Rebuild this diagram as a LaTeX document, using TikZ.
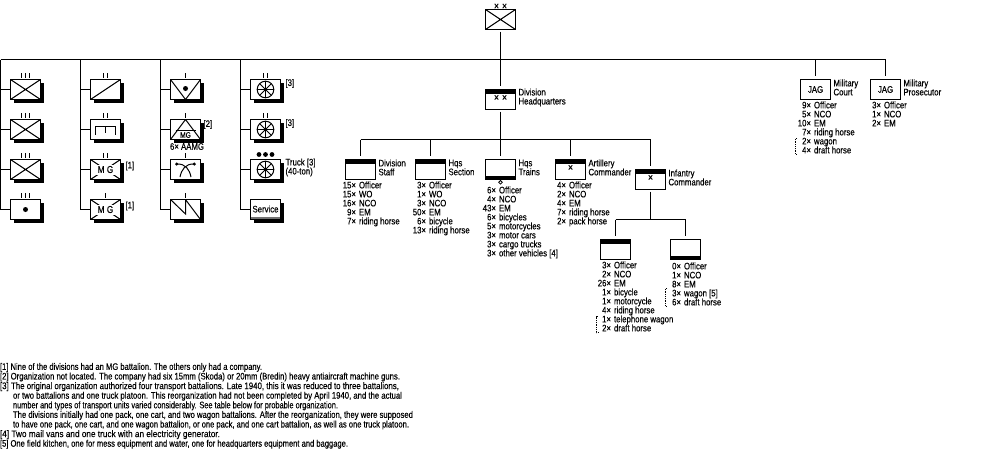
\documentclass[tikz,border=0pt]{standalone}
\usepackage{graphicx}
\usepackage{fontspec}
\setmainfont[FakeStretch=0.82,FakeBold=0.25]{Liberation Sans}
\usetikzlibrary{shadows}

\newcommand{\ppb}{path picture bounding box}
\newcommand{\onetick}{\rule{1pt}{4.5pt}}
\newcommand{\twoticks}{\onetick\hspace{3pt}\onetick}
\newcommand{\threeticks}{\onetick\hspace{3pt}\onetick\hspace{3pt}\onetick}
\newcommand{\crosses}{\fontsize{10.5}{10.5}\selectfont ×\hspace{3pt}×}
\newcommand{\cross}{\fontsize{10.5}{10.5}\selectfont ×}
\newcommand{\rowq}[2]{\makebox[16pt][r]{#1×}\hspace{3pt}#2}
\newcommand{\noteline}[2]{\resizebox{#1}{\height}{#2}}
\newcommand{\wheel}{\draw[shift={(\ppb.center)}] (0,0) circle (8.3);
  \foreach \a in {0,45,...,315} \draw[shift={(\ppb.center)}] (0,0) -- (\a:8.3);
  \fill[black,shift={(\ppb.center)}] (0,0) circle (1.4);}

\begin{document}
\begin{tikzpicture}[x=1pt,y=-1pt,line width=1pt,node distance={40pt},
  txt/.style = {font=\fontsize{9.5}{9}\selectfont,inner sep=0pt,outer sep=0pt},
  box/.style = {draw,rectangle,fill=white,minimum width=30pt,minimum height=20pt,inner sep=0pt,outer sep=0pt,txt},
  unit/.style = {box,drop shadow={shadow xshift=3pt,shadow yshift=-3pt,opacity=1,fill=black}},
  tick/.style = {label={[inner sep=0pt,label distance=1.5pt]above:#1}},
  inf/.style = {unit,path picture={\draw (\ppb.north west) -- (\ppb.south east) (\ppb.north east) -- (\ppb.south west);}},
  mg/.style = {unit,path picture={\draw (\ppb.north west) -- (\ppb.south east) (\ppb.north east) -- (\ppb.south west);
    \node[txt,fill=white,minimum width=23pt,minimum height=10pt,font=\fontsize{10}{10}\selectfont] at (\ppb.center) {M G};}},
  wagon/.style = {unit,path picture={\wheel}},
  bandtop/.style = {box,path picture={\fill[black] (\ppb.north west) rectangle ([yshift=-4pt]\ppb.north east);}},
  bandbot/.style = {box,path picture={\fill[black] (\ppb.south west) rectangle ([yshift=3.5pt]\ppb.south east);}},
  mark/.style = {label={[txt,yshift=1.5pt]center:#1}},
  side/.style = {txt,anchor=west,align=left},
  lst/.style = {txt,anchor=north west,align=left},
  brk/.style = {densely dotted,line width=0.8pt}]
\useasboundingbox (0,0) rectangle (1000,450);

% division and headquarters
\node[box,line width=1.6pt,label={[txt,label distance=0pt]above:\crosses},
  path picture={\draw[line width=1pt] (\ppb.north west) -- (\ppb.south east) (\ppb.north east) -- (\ppb.south west);}] (div) at (500.5,19.5) {};
\node[bandtop,mark={\crosses}] (hq) at (500.5,99.5) {};
\node[side] (hqn) at ([xshift=3pt,yshift=2pt]hq.east) {Division\\Headquarters};

% main bar
\coordinate (t1) at (0.5,59.5);
\coordinate (t2) at (80.5,59.5);
\coordinate (t3) at (160.5,59.5);
\coordinate (t4) at (240.5,59.5);
\coordinate (t5) at (815.5,59.5);
\coordinate (t6) at (885.5,59.5);
\coordinate (tm) at (500.5,59.5);
\draw (t1) -- (t6);

% infantry column
\node[inf,tick=\threeticks] (a1) at (25.5,89.5) {};
\node[inf,tick=\threeticks] (a2) [below of=a1] {};
\node[inf,tick=\threeticks] (a3) [below of=a2] {};
\node[unit,tick=\threeticks,path picture={\fill[black] (\ppb.center) circle (2.5);}] (a4) [below of=a3] {};

% second column
\node[unit,tick=\twoticks,path picture={\draw (\ppb.south west) -- (\ppb.north east);}] (b1) at (105.5,89.5) {};
\node[unit,tick=\twoticks,path picture={\draw[shift={(\ppb.center)}] (-10,5) -- (-10,-3.5) -- (10,-3.5) -- (10,5) (0,-3.5) -- (0,3);}] (b2) [below of=b1] {};
\node[mg,tick=\twoticks] (b3) [below of=b2] {};
\node[mg,tick=\onetick] (b4) [below of=b3] {};
\node[side] (b3n) at ([xshift=5pt,yshift=3.5pt]b3.east) {[1]};
\node[side] (b4n) at ([xshift=5pt,yshift=3.5pt]b4.east) {[1]};

% third column
\node[unit,tick=\onetick,path picture={\draw (\ppb.north west) -- (\ppb.south) -- (\ppb.north east);
  \fill[black,shift={(\ppb.center)}] (0,-1) circle (2.5);}] (c1) at (185.5,89.5) {};
\node[unit,tick=\onetick,path picture={\draw (\ppb.south west) -- (\ppb.north) -- (\ppb.south east);
  \draw[shift={(\ppb.center)}] (-10,0.5) -- (10,0.5);
  \node[txt,font=\fontsize{8}{8}\selectfont] at ([yshift=-5.5pt]\ppb.center) {MG};}] (c2) [below of=c1] {};
\node[unit,tick=\onetick,path picture={\begin{scope}[shift={(\ppb.center)}]
  \fill[black] (-8.8,-5.5) circle (1.7) (8.8,-5.5) circle (1.7);
  \draw (-8.8,-5.5) .. controls (0,-6) and (4,0) .. (5.5,7.5);
  \draw (8.8,-5.5) .. controls (0,-6) and (-4,0) .. (-5.5,7.5);
  \end{scope}}] (c3) [below of=c2] {};
\node[unit,tick=\onetick,path picture={\draw[shift={(\ppb.center)}] (-15,-10) -- (0,4.5) -- (0,-10) -- (15,10);}] (c4) [below of=c3] {};
\node[side] (c2n) at ([xshift=3pt,yshift=5pt]c2.east) {[2]};
\node[side] (c2m) at ([xshift=-15.5pt,yshift=-7pt]c2.south) {6× AAMG};

% transport column
\node[wagon,tick=\twoticks] (d1) at (265.5,89.5) {};
\node[wagon,tick=\twoticks] (d2) [below of=d1] {};
\node[wagon] (d3) [below of=d2] {};
\node[unit,path picture={\fill[black!55] (\ppb.south west) rectangle ([yshift=3pt]\ppb.south east);}] (d4) [below of=d3] {\raisebox{1pt}{Service}};
\foreach \i in {-6.5,0,6.5} \fill ([xshift=\i pt,yshift=5pt]d3.north) circle (2.4);
\node[side] (d1n) at ([xshift=5pt,yshift=6pt]d1.east) {[3]};
\node[side] (d2n) at ([xshift=5pt,yshift=6pt]d2.east) {[3]};
\node[side] (d3n) at ([xshift=5pt,yshift=2pt]d3.east) {Truck [3]\\(40-ton)};

\draw (t1) |- (a4.west);
\draw (t1 |- a1) -- (a1.west);
\draw (t1 |- a2) -- (a2.west);
\draw (t1 |- a3) -- (a3.west);
\draw (t2) |- (b4.west);
\draw (t2 |- b1) -- (b1.west);
\draw (t2 |- b2) -- (b2.west);
\draw (t2 |- b3) -- (b3.west);
\draw (t3) |- (c4.west);
\draw (t3 |- c1) -- (c1.west);
\draw (t3 |- c2) -- (c2.west);
\draw (t3 |- c3) -- (c3.west);
\draw (t4) |- (d4.west);
\draw (t4 |- d1) -- (d1.west);
\draw (t4 |- d2) -- (d2.west);
\draw (t4 |- d3) -- (d3.west);

% headquarters branches
\node[bandtop] (s1) at (360.5,169.5) {};
\node[bandtop] (s2) [right of=s1,node distance=70pt] {};
\node[bandbot] (s3) [right of=s2,node distance=70pt] {};
\node[bandtop,mark={\cross}] (s4) [right of=s3,node distance=70pt] {};
\node[bandtop,mark={\cross}] (s5) at (650.5,179.5) {};
\node[side] (s1n) at ([xshift=3pt,yshift=2pt]s1.east) {Division\\Staff};
\node[side] (s2n) at ([xshift=3pt,yshift=2pt]s2.east) {Hqs\\Section};
\node[side] (s3n) at ([xshift=3pt,yshift=2pt]s3.east) {Hqs\\Trains};
\node[side] (s4n) at ([xshift=3pt,yshift=2pt]s4.east) {Artillery\\Commander};
\node[side] (s5n) at ([xshift=3pt,yshift=2pt]s5.east) {Infantry\\Commander};
\draw[line width=0.8pt] (s3.south) ++(0,2.8) circle (1.8);
\coordinate (j) at (500.5,139.5);
\draw[shorten <=2pt] (div.south) -- (tm);
\draw[shorten >=4pt] (tm) -- (hq.north);
\draw[shorten <=2pt] (hq.south) -- (j);
\draw (s1.north |- j) -- (s5.north |- j);
\draw[shorten >=4pt] (s1.north |- j) -- (s1.north);
\draw[shorten >=4pt] (s2.north |- j) -- (s2.north);
\draw[shorten >=4pt] (j) -- (s3.north);
\draw[shorten >=4pt] (s4.north |- j) -- (s4.north);
\draw[shorten >=4pt] (s5.north |- j) -- (s5.north);

% infantry commander platoons
\node[bandtop] (p1) at (615.5,249.5) {};
\node[bandbot] (p2) [right of=p1,node distance=70pt] {};
\coordinate (k) at (650.5,219.5);
\draw[shorten <=2pt] (s5.south) -- (k);
\draw (p1.north |- k) -- (p2.north |- k);
\draw[shorten >=4pt] (p1.north |- k) -- (p1.north);
\draw[shorten >=4pt] (p2.north |- k) -- (p2.north);

% military justice
\node[box] (j1) at (815.5,89.5) {JAG};
\node[box] (j2) [right of=j1,node distance=70pt] {JAG};
\node[side] (j1n) at ([xshift=3pt,yshift=2pt]j1.east) {Military\\Court};
\node[side] (j2n) at ([xshift=3pt,yshift=2pt]j2.east) {Military\\Prosecutor};
\draw[shorten >=4pt] (t5) -- (j1.north);
\draw[shorten >=4pt] (t6) -- (j2.north);

% strengths
\node[lst] (l1) at (340,181.5) {\rowq{15}{Officer}\\\rowq{15}{WO}\\\rowq{16}{NCO}\\\rowq{9}{EM}\\\rowq{7}{riding horse}};
\node[lst] (l2) at (410,181.5) {\rowq{3}{Officer}\\\rowq{1}{WO}\\\rowq{3}{NCO}\\\rowq{50}{EM}\\\rowq{6}{bicycle}\\\rowq{13}{riding horse}};
\node[lst] (l3) at (480,186.5) {\rowq{6}{Officer}\\\rowq{4}{NCO}\\\rowq{43}{EM}\\\rowq{6}{bicycles}\\\rowq{5}{motorcycles}\\\rowq{3}{motor cars}\\\rowq{3}{cargo trucks}\\\rowq{3}{other vehicles [4]}};
\node[lst] (l4) at (550,181.5) {\rowq{4}{Officer}\\\rowq{2}{NCO}\\\rowq{4}{EM}\\\rowq{7}{riding horse}\\\rowq{2}{pack horse}};
\node[lst] (l5) at (595,261.5) {\rowq{3}{Officer}\\\rowq{2}{NCO}\\\rowq{26}{EM}\\\rowq{1}{bicycle}\\\rowq{1}{motorcycle}\\\rowq{4}{riding horse}\\\rowq{1}{telephone wagon}\\\rowq{2}{draft horse}};
\node[lst] (l6) at (665,262.5) {\rowq{0}{Officer}\\\rowq{1}{NCO}\\\rowq{8}{EM}\\\rowq{3}{wagon [5]}\\\rowq{6}{draft horse}};
\node[lst] (l7) at (795,101.5) {\rowq{9}{Officer}\\\rowq{5}{NCO}\\\rowq{10}{EM}\\\rowq{7}{riding horse}\\\rowq{2}{wagon}\\\rowq{4}{draft horse}};
\node[lst] (l8) at (865,101.5) {\rowq{3}{Officer}\\\rowq{1}{NCO}\\\rowq{2}{EM}};

% dotted brackets for the horse drawn part
\draw[brk] (598,316.5) -- (596,316.5) -- (596,332.5) -- (598,332.5);
\draw[brk] (667,288.5) -- (665.5,288.5) -- (665.5,306.5) -- (667,306.5);
\draw[brk] (797,138.5) -- (795.5,138.5) -- (795.5,154.5) -- (797,154.5);

% footnotes
\node[lst,font=\fontsize{9.5}{9.6}\selectfont] (notes) at (0,363) {\noteline{262pt}{{[1]} Nine of the divisions had an MG battalion. The others only had a company.}\\
\noteline{400pt}{{[2]} Organization not located. The company had six 15mm (Skoda) or 20mm (Bredin) heavy antiaircraft machine guns.}\\
\noteline{399pt}{{[3]} The original organization authorized four transport battalions. Late 1940, this it was reduced to three battalions,}\\
\hspace*{13pt}\noteline{389pt}{or two battalions and one truck platoon. This reorganization had not been completed by April 1940, and the actual}\\
\hspace*{13pt}\noteline{325pt}{number and types of transport units varied considerably. See table below for probable organization.}\\
\hspace*{13pt}\noteline{400pt}{The divisions initially had one pack, one cart, and two wagon battalions. After the reorganization, they were supposed}\\
\hspace*{13pt}\noteline{396pt}{to have one pack, one cart, and one wagon battalion, or one pack, and one cart battalion, as well as one truck platoon.}\\
\noteline{220pt}{{[4]} Two mail vans and one truck with an electricity generator.}\\
\noteline{348pt}{{[5]} One field kitchen, one for mess equipment and water, one for headquarters equipment and baggage.}};
\end{tikzpicture}
\end{document}
